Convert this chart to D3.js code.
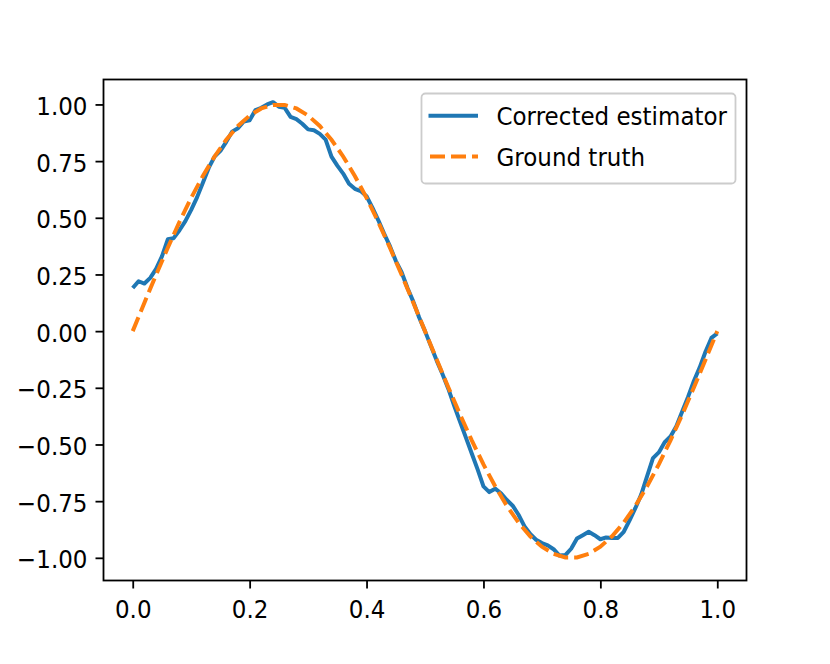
<!DOCTYPE html>
<html>
<head>
<meta charset="utf-8">
<script src="https://cdn.jsdelivr.net/npm/d3@7"></script>
<style>
  html, body { margin: 0; padding: 0; background: #fff; }
  svg { display: block; font-family: "DejaVu Sans", sans-serif; }
</style>
</head>
<body>
<svg id="chart" width="830" height="664"></svg>
<script>
// ---- data ----
const estimatorX = d3.range(0, 101).map(i => i / 100);
const estimatorY = [
  0.19, 0.22, 0.21, 0.235, 0.275, 0.33, 0.405, 0.41, 0.445, 0.485,
  0.535, 0.59, 0.655, 0.72, 0.77, 0.795, 0.835, 0.88, 0.895, 0.925,
  0.93, 0.975, 0.985, 1.0, 1.01, 0.99, 0.985, 0.945, 0.935, 0.915,
  0.89, 0.886, 0.87, 0.845, 0.77, 0.73, 0.695, 0.65, 0.628, 0.618,
  0.595, 0.545, 0.49, 0.43, 0.375, 0.31, 0.26, 0.19, 0.13, 0.06,
  0.0, -0.065, -0.13, -0.19, -0.255, -0.33, -0.40, -0.47, -0.54, -0.61,
  -0.685, -0.71, -0.695, -0.715, -0.745, -0.77, -0.81, -0.86, -0.895, -0.92,
  -0.935, -0.945, -0.962, -0.99, -0.988, -0.96, -0.915, -0.9, -0.885, -0.9,
  -0.918, -0.91, -0.912, -0.912, -0.885, -0.835, -0.78, -0.72, -0.64, -0.56,
  -0.535, -0.49, -0.465, -0.42, -0.355, -0.29, -0.22, -0.16, -0.09, -0.03,
  -0.01
];
const truthX = d3.range(0, 51).map(i => i / 50);
const truthY = [
  0, 0.1253, 0.2487, 0.3681, 0.4818, 0.5878, 0.6845, 0.7705, 0.8443, 0.9048,
  0.9511, 0.9823, 0.9980, 0.9980, 0.9823, 0.9511, 0.9048, 0.8443, 0.7705, 0.6845,
  0.5878, 0.4818, 0.3681, 0.2487, 0.1253, 0,
  -0.1253, -0.2487, -0.3681, -0.4818, -0.5878, -0.6845, -0.7705, -0.8443, -0.9048,
  -0.9511, -0.9823, -0.9980, -0.9980, -0.9823, -0.9511, -0.9048, -0.8443, -0.7705, -0.6845,
  -0.5878, -0.4818, -0.3681, -0.2487, -0.1253, 0
];
const xTicks = [0.0, 0.2, 0.4, 0.6, 0.8, 1.0];
const yTicks = [-1.0, -0.75, -0.5, -0.25, 0.0, 0.25, 0.5, 0.75, 1.0];
const seriesNames = ["Corrected estimator", "Ground truth"];
const seriesColors = ["#1f77b4", "#ff7f0e"];

// ---- layout ----
const plotL = 103.5, plotR = 746.5, plotT = 79.5, plotB = 580.5;
const svg = d3.select("#chart");

const x = d3.scaleLinear().domain([-0.05, 1.05]).range([plotL, plotR]);
const y = d3.scaleLinear().domain([-1.1, 1.11]).range([plotB, plotT]);

const fontSize = 23;
const stretchY = 1.09;
const lw = 4;
const dash = "15,6";

// clip
svg.append("defs").append("clipPath").attr("id", "clip")
  .append("rect").attr("x", plotL).attr("y", plotT)
  .attr("width", plotR - plotL).attr("height", plotB - plotT);

const plot = svg.append("g").attr("clip-path", "url(#clip)");

const line = d3.line().x(d => x(d[0])).y(d => y(d[1]));

plot.append("path")
  .datum(estimatorX.map((v, i) => [v, estimatorY[i]]))
  .attr("d", line)
  .attr("fill", "none")
  .attr("stroke", seriesColors[0])
  .attr("stroke-width", lw)
  .attr("stroke-linejoin", "round")
  .attr("stroke-linecap", "butt");

plot.append("path")
  .datum(truthX.map((v, i) => [v, truthY[i]]))
  .attr("d", line)
  .attr("fill", "none")
  .attr("stroke", seriesColors[1])
  .attr("stroke-width", lw)
  .attr("stroke-dasharray", dash)
  .attr("stroke-linecap", "butt");

// axes
const fmtY = v => (v < 0 ? "\u2212" : "") + Math.abs(v).toFixed(2);
const fmtX = v => v.toFixed(1);

const xAxis = svg.append("g")
  .attr("transform", `translate(0,${plotB})`)
  .call(d3.axisBottom(x).tickValues(xTicks).tickFormat(fmtX).tickSize(8).tickPadding(8));
const yAxis = svg.append("g")
  .attr("transform", `translate(${plotL},0)`)
  .call(d3.axisLeft(y).tickValues(yTicks).tickFormat(fmtY).tickSize(8).tickPadding(8));

[xAxis, yAxis].forEach(g => {
  g.select(".domain").remove();
  g.selectAll(".tick line").attr("stroke", "#000").attr("stroke-width", 1.8);
  g.selectAll(".tick text")
    .attr("fill", "#000")
    .style("font-family", "'DejaVu Sans', sans-serif")
    .style("font-size", fontSize + "px");
});
xAxis.selectAll(".tick text")
  .attr("y", 0).attr("dy", null)
  .attr("transform", `translate(0,37) scale(1,${stretchY})`);
yAxis.selectAll(".tick text")
  .attr("y", 0).attr("dy", null)
  .attr("transform", `translate(0,10) scale(1,${stretchY})`);

// frame
svg.append("rect")
  .attr("x", plotL).attr("y", plotT)
  .attr("width", plotR - plotL).attr("height", plotB - plotT)
  .attr("fill", "none").attr("stroke", "#000").attr("stroke-width", 1.8);

// legend
const lg = svg.append("g");
lg.append("rect")
  .attr("x", 421.5).attr("y", 93.5).attr("width", 314).attr("height", 90)
  .attr("rx", 4).attr("ry", 4)
  .attr("fill", "#fff").attr("fill-opacity", 0.8)
  .attr("stroke", "#cccccc").attr("stroke-width", 1.8);

const rows = [115.7, 156.5];
seriesNames.forEach((name, i) => {
  const l = lg.append("line")
    .attr("x1", i === 0 ? 428.5 : 430).attr("x2", 478)
    .attr("y1", rows[i]).attr("y2", rows[i])
    .attr("stroke", seriesColors[i]).attr("stroke-width", lw);
  if (i === 1) l.attr("stroke-dasharray", dash);
  lg.append("text")
    .attr("transform", `translate(496.5,${rows[i] + 9.2}) scale(1,${stretchY})`)
    .style("font-size", fontSize + "px")
    .attr("fill", "#000")
    .text(name);
});
</script>
</body>
</html>
